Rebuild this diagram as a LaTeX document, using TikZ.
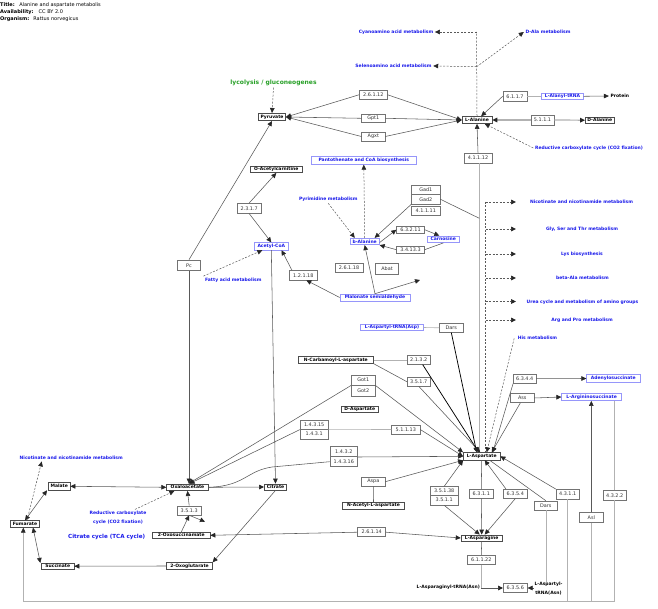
\documentclass[tikz,border=0pt]{standalone}
\usepackage{fontspec}
\setmainfont{DejaVu Sans}
\usetikzlibrary{arrows.meta}
\definecolor{pblue}{RGB}{25,25,235}
\definecolor{bbord}{RGB}{150,150,250}
\definecolor{ggreen}{RGB}{40,160,40}
\tikzset{
  met/.style={draw=black!70, line width=0.65pt, fill=white, inner sep=0pt, font=\fontsize{4.5}{5}\selectfont\bfseries},
  enz/.style={draw=black!55, line width=0.6pt, fill=white, inner sep=0pt, font=\fontsize{4.9}{5.5}\selectfont, text=black!80},
  bmet/.style={draw=bbord, line width=0.6pt, fill=white, inner sep=0pt, font=\fontsize{4.5}{5}\selectfont\bfseries, text=pblue},
  plab/.style={inner sep=1.5pt, font=\fontsize{4.5}{5}\selectfont\bfseries, text=pblue},
  tlab/.style={inner sep=1.5pt, font=\fontsize{4.5}{5}\selectfont\bfseries},
  rx/.style={draw=black!65, line width=0.55pt},
  lrx/.style={draw=black!30, line width=0.6pt},
  hrx/.style={draw=black, line width=0.75pt},
  wrx/.style={draw=black!30, line width=1.2pt},
  dsh/.style={draw=black!65, line width=0.5pt, dash pattern=on 2pt off 1.5pt},
  arr/.style={-{Triangle[length=5pt,width=4.6pt,color=black!85]}},
  barr/.style={{Triangle[length=5pt,width=4.6pt,color=black!85]}-{Triangle[length=5pt,width=4.6pt,color=black!85]}},
}
\begin{document}
\begin{tikzpicture}[x=1pt,y=-1pt]
\useasboundingbox (0,0) rectangle (658,609);
\fill[white] (0,0) rectangle (658,609);
% header
\node[anchor=west,inner sep=0,font=\fontsize{5}{6}\selectfont] (hd1) at (0,5) {\textbf{Title:}\hspace{4.5pt}Alanine and aspartate metabolis};
\node[anchor=west,inner sep=0,font=\fontsize{5}{6}\selectfont] (hd2) at (0,12.3) {\textbf{Availability:}\hspace{5pt}CC BY 2.0};
\node[anchor=west,inner sep=0,font=\fontsize{5}{6}\selectfont] (hd3) at (0,19.3) {\textbf{Organism:}\hspace{4pt}Rattus norvegicus};
% pathway labels
\node[plab] (cyano) at (396,32) {Cyanoamino acid metabolism};
\node[plab] (seleno) at (393.5,66) {Selenoamino acid metabolism};
\node[plab] (dalamet) at (548,32) {D-Ala metabolism};
\node[plab] (redc1) at (589,148) {Reductive carboxylate cycle (CO2 fixation)};
\node[plab] (pyrim) at (328.3,199.5) {Pyrimidine metabolism};
\node[plab] (fatty) at (233.3,280) {Fatty acid metabolism};
\node[plab] (nic1) at (581.5,202) {Nicotinate and nicotinamide metabolism};
\node[plab] (gly) at (582,229) {Gly, Ser and Thr metabolism};
\node[plab] (lys) at (582,254) {Lys biosynthesis};
\node[plab] (beta) at (582.5,278) {beta-Ala metabolism};
\node[plab] (urea) at (582.5,302) {Urea cycle and metabolism of amino groups};
\node[plab] (argpro) at (582,320) {Arg and Pro metabolism};
\node[plab] (his) at (537.5,338.3) {His metabolism};
\node[plab] (nic2) at (71.2,458) {Nicotinate and nicotinamide metabolism};
\node[plab, align=center, font=\fontsize{4.5}{9}\selectfont\bfseries] (redc2) at (118,517.8) {Reductive carboxylate\\cycle (CO2 fixation)};
\node[plab, font=\fontsize{5.6}{7}\selectfont\bfseries] (tca) at (106.7,537.3) {Citrate cycle (TCA cycle)};
\node[inner sep=1.5pt, font=\fontsize{6}{7}\selectfont\bfseries, text=ggreen] (glyco) at (273.5,83) {lycolysis / gluconeogenes};
% metabolites
\node[met, minimum width=27.4pt, minimum height=7.4pt] (pyr) at (272,117) {Pyruvate};
\node[met, minimum width=30pt, minimum height=7pt] (lala) at (477,120) {L-Alanine};
\node[met, minimum width=28.7pt, minimum height=6.5pt] (dala) at (599.7,120.2) {D-Alanine};
\node[met, minimum width=51.3pt, minimum height=6.7pt] (oac) at (276.3,169.3) {O-Acetylcarnitine};
\node[met, minimum width=75pt, minimum height=6.7pt] (ncarb) at (335.8,360) {N-Carbamoyl-L-aspartate};
\node[met, minimum width=37.3pt, minimum height=6.3pt] (dasp) at (359.7,409.2) {D-Aspartate};
\node[met, minimum width=36.7pt, minimum height=7.3pt] (lasp) at (481.7,456.3) {L-Aspartate};
\node[met, minimum width=41.3pt, minimum height=6.2pt] (lasn) at (481.7,538) {L-Asparagine};
\node[met, minimum width=61.7pt, minimum height=6.7pt] (nacet) at (373.5,505.7) {N-Acetyl-L-aspartate};
\node[met, minimum width=41.7pt, minimum height=6.7pt] (oxa) at (187.5,487.3) {Oxaloacetate};
\node[met, minimum width=22.3pt, minimum height=6.2pt] (citrate) at (275.5,487) {Citrate};
\node[met, minimum width=21.7pt, minimum height=7.3pt] (malate) at (59.2,486.3) {Malate};
\node[met, minimum width=28.7pt, minimum height=6.7pt] (fum) at (25,524) {Fumarate};
\node[met, minimum width=32.3pt, minimum height=5.9pt] (succ) at (57.8,566.2) {Succinate};
\node[met, minimum width=45.7pt, minimum height=6.7pt] (oxoglu) at (189.5,566) {2-Oxoglutarate};
\node[met, minimum width=57.3pt, minimum height=6.2pt] (oxosuc) at (181.3,535.3) {2-Oxosuccinamate};
\node[tlab] (protein) at (619.8,96) {Protein};
% blue metabolites
\node[bmet, minimum width=34pt, minimum height=7.3pt] (acoa) at (271.3,246.3) {Acetyl-CoA};
\node[bmet, minimum width=29.3pt, minimum height=6.6pt] (balan) at (364.7,241.5) {b-Alanine};
\node[bmet, minimum width=31.3pt, minimum height=6.7pt] (carn) at (443.3,239.3) {Carnosine};
\node[bmet, minimum width=70pt, minimum height=7pt] (malsa) at (375,297.5) {Malonate semialdehyde};
\node[bmet, minimum width=62.7pt, minimum height=6.4pt] (aspt) at (392,327.5) {L-Aspartyl-tRNA(Asp)};
\node[bmet, minimum width=41.7pt, minimum height=6pt] (alat) at (562.5,96.3) {L-Alanyl-tRNA};
\node[bmet, minimum width=104.3pt, minimum height=7.7pt] (panto) at (363.8,160.5) {Pantothenate and CoA biosynthesis};
\node[bmet, minimum width=53.3pt, minimum height=8.3pt] (adeno) at (613.3,378.5) {Adenylosuccinate};
\node[bmet, minimum width=60pt, minimum height=7.3pt] (argsuc) at (591.7,397) {L-Argininosuccinate};
% enzymes
\node[enz, minimum width=28pt, minimum height=8.3pt] (e26112) at (373.3,94.8) {2.6.1.12};
\node[enz, minimum width=23.3pt, minimum height=8.7pt] (gpt1) at (373.3,118.3) {Gpt1};
\node[enz, minimum width=23.3pt, minimum height=9pt] (agxt) at (373.3,136.5) {Agxt};
\node[enz, minimum width=24pt, minimum height=9.3pt] (e6117) at (515,96.3) {6.1.1.7};
\node[enz, minimum width=23.3pt, minimum height=10pt] (e5111) at (542.5,120) {5.1.1.1};
\node[enz, minimum width=28pt, minimum height=10pt] (e41112) at (478,158) {4.1.1.12};
\node[enz, minimum width=23.7pt, minimum height=10pt] (e2317) at (249.2,208.3) {2.3.1.7};
\node[enz, minimum width=28.3pt, minimum height=9.5pt] (gad1) at (425.8,189.7) {Gad1};
\node[enz, minimum width=28.3pt, minimum height=9.5pt] (gad2) at (425.8,199.2) {Gad2};
\node[enz, minimum width=28.3pt, minimum height=9pt] (e41111) at (425.8,211.2) {4.1.1.11};
\node[enz, minimum width=27.7pt, minimum height=7.5pt] (e63211) at (410.5,229.7) {6.3.2.11};
\node[enz, minimum width=27.7pt, minimum height=7.5pt] (e341) at (410.5,249.7) {3.4.13.3};
\node[enz, minimum width=27.7pt, minimum height=9.3pt] (e26118) at (349,268) {2.6.1.18};
\node[enz, minimum width=22.7pt, minimum height=10.7pt] (abat) at (387,268.5) {Abat};
\node[enz, minimum width=28pt, minimum height=9.3pt] (e12118) at (303.3,275.3) {1.2.1.18};
\node[enz, minimum width=23.3pt, minimum height=10.7pt] (pc) at (189,265.3) {Pc};
\node[enz, minimum width=24pt, minimum height=9pt] (dars1) at (451.3,327.8) {Dars};
\node[enz, minimum width=22.7pt, minimum height=8.7pt] (e2132) at (418.7,360) {2.1.3.2};
\node[enz, minimum width=22.7pt, minimum height=8.3pt] (e3517) at (418.7,381.8) {3.5.1.7};
\node[enz, minimum width=23.3pt, minimum height=10pt] (got1) at (363.3,380) {Got1};
\node[enz, minimum width=23.3pt, minimum height=11pt] (got2) at (363.3,390.5) {Got2};
\node[enz, minimum width=28.3pt, minimum height=9.3pt] (e14315) at (314.2,424.7) {1.4.3.15};
\node[enz, minimum width=28.3pt, minimum height=9.7pt] (e1431) at (314.2,434.2) {1.4.3.1};
\node[enz, minimum width=28.3pt, minimum height=9pt] (e51113) at (405.8,429.5) {5.1.1.13};
\node[enz, minimum width=27.7pt, minimum height=10pt] (e1432) at (343.8,451.7) {1.4.3.2};
\node[enz, minimum width=27.7pt, minimum height=10pt] (e14316) at (343.8,461.7) {1.4.3.16};
\node[enz, minimum width=23.3pt, minimum height=8.7pt] (aspa) at (373.3,481.7) {Aspa};
\node[enz, minimum width=22.7pt, minimum height=9.3pt] (e6344) at (524.7,378.7) {6.3.4.4};
\node[enz, minimum width=23.3pt, minimum height=9.3pt] (ass) at (522.3,398) {Ass};
\node[enz, minimum width=28.3pt, minimum height=8.3pt] (e35138) at (444.2,490.8) {3.5.1.38};
\node[enz, minimum width=28.3pt, minimum height=10pt] (e3511) at (444.2,500) {3.5.1.1};
\node[enz, minimum width=23.3pt, minimum height=9pt] (e6311) at (481.3,493.8) {6.3.1.1};
\node[enz, minimum width=24pt, minimum height=9pt] (e6354) at (515.3,493.8) {6.3.5.4};
\node[enz, minimum width=23.3pt, minimum height=9.7pt] (e4311) at (567.7,494.2) {4.3.1.1};
\node[enz, minimum width=22.7pt, minimum height=9.3pt] (e4322) at (614.7,495.3) {4.3.2.2};
\node[enz, minimum width=23pt, minimum height=9pt] (dars2) at (545.8,505.5) {Dars};
\node[enz, minimum width=24pt, minimum height=9.7pt] (asl) at (591.3,517.5) {Asl};
\node[enz, minimum width=23.7pt, minimum height=9pt] (e35113) at (189.2,510.5) {3.5.1.3};
\node[enz, minimum width=28pt, minimum height=9pt] (e26114) at (371.7,532.2) {2.6.1.14};
\node[enz, minimum width=27.3pt, minimum height=9.3pt] (e61122) at (481.3,559.7) {6.1.1.22};
\node[enz, minimum width=24pt, minimum height=9.3pt] (e6356) at (515.3,588) {6.3.5.6};
\node[tlab, anchor=east, inner sep=0pt] (asntrna) at (480,587.7) {L-Asparaginyl-tRNA(Asn)};
% coordinates
\coordinate (dj1) at (476.7,66.7);
\coordinate (dj2) at (476.7,32);
\coordinate (mend) at (420,280);
\coordinate (gj) at (479.3,218.3);
\coordinate (e3end) at (205,521.7);
\coordinate (dv1) at (485.7,202); \coordinate (tp1) at (516,202);
\coordinate (dv2) at (485.7,229); \coordinate (tp2) at (516,229);
\coordinate (dv3) at (485.7,254); \coordinate (tp3) at (516,254);
\coordinate (dv4) at (485.7,278); \coordinate (tp4) at (516,278);
\coordinate (dv5) at (485.7,301.5); \coordinate (tp5) at (516,301.5);
\coordinate (dv6) at (485.7,320); \coordinate (tp6) at (516,320);
\coordinate (bl) at (23.3,601);
% top dashed
\draw[dsh] (lala.north) -- (dj1) -- (dj2);
\draw[dsh,arr] (dj2) -- (cyano.east);
\draw[dsh,arr] (dj1) -- (seleno.east);
\draw[dsh,arr] (dj1) -- (dalamet.west);
\draw[dsh,arr] (glyco.south) -- (pyr.north);
% pyruvate - alanine
\draw[rx,arr] (e26112.west) -- (pyr.east);
\draw[rx,arr] (gpt1.west) -- (pyr.east);
\draw[rx,arr] (agxt.west) -- (pyr.east);
\draw[rx,arr] (e26112.east) -- (lala.west);
\draw[rx,arr] (gpt1.east) -- (lala.west);
\draw[rx,arr] (agxt.east) -- (lala.west);
\draw[rx,arr] (e6117.west) -- (lala);
\draw[lrx] (e6117.east) -- (alat.west);
\draw[rx,arr] (alat.east) -- (protein.west);
\draw[wrx,arr] (e5111.west) -- (lala.east);
\draw[wrx,arr] (e5111.east) -- (dala.west);
\draw[dsh,arr] (redc1.west) -- (lala);
\draw[rx,arr] (e41112.north) -- (lala.south);
\draw[wrx] ([xshift=1.3pt]e41112.south) -- ([xshift=1.3pt]e41112.south |- lasp.north);
% acetyl-CoA / b-alanine
\draw[rx,arr] (e2317.north) -- (oac.south);
\draw[rx,arr] (e2317.south) -- (acoa.north);
\draw[rx,arr] (pc.north) -- (pyr.south);
\draw[rx,arr] (pc.south) -- (pc.south |- oxa.north);
\draw[dsh,arr] (fatty.north west) -- (acoa);
\draw[rx,arr] ([xshift=3pt]e12118.north west) -- ([xshift=-7pt]acoa.south east);
\draw[rx,arr] (malsa.west) -- ([xshift=3pt]e12118.south);
\draw[rx,arr] (malsa.north) -- (balan.south);
\draw[rx,arr] (malsa.north) -- (mend);
\draw[dsh,arr] (pyrim.south) -- ([xshift=5pt]balan.north west);
\draw[dsh,arr] (balan.north) -- (panto.south);
\draw[rx,arr] (gad2.south west) -- ([xshift=-5pt]balan.north east);
\draw[rx] (gad2.east) -- (gj);
\draw[rx,arr] ([yshift=-1pt]balan.east) -- (e63211.west);
\draw[rx,arr] (e63211.east) -- ([xshift=-4pt]carn.north);
\draw[rx] (carn.south) -- (e341.east);
\draw[rx,arr] (e341.west) -- (balan.south east);
% TCA
\draw[rx,barr] (malate.east) -- (oxa.west);
\draw[rx,barr] (fum.north) -- ([xshift=-1pt]malate.south west);
\draw[dsh,arr] ([xshift=2pt]fum.north) -- ([xshift=-29.5pt]nic2.south);
\draw[rx,barr] ([xshift=8pt]fum.south) -- ([xshift=-1pt]succ.north west);
\draw[rx,arr] (oxoglu.west) -- (succ.east);
\draw[rx,arr] (citrate.south) -- (oxoglu.north east);
\draw[rx,arr] (oxa.east) -- (citrate.west);
\draw[rx,arr] (acoa.south) -- (citrate.north);
\draw[rx,arr] (oxosuc.north) -- (e35113.south);
\draw[rx,arr] (e35113.south) -- (e3end);
\draw[rx,arr] (e35113.north) -- (oxa.south);
\draw[dsh,arr] ([xshift=17pt]redc2.north) -- ([xshift=8pt]oxa.south west);
\draw[rx,arr] (e26114.west) -- (oxosuc.east);
\draw[rx,arr] (e26114.east) -- (lasn.west);
% aspartate left side
\draw[rx] (oxa.east) .. controls (245,486) and (246,471) .. (272,467) -- (e14316.west);
\draw[rx,arr] (e1432.south east) -- (lasp.west);
\draw[rx,arr] (e14315.south west) -- ([xshift=2pt]oxa.north);
\draw[lrx] (e14315.south east) -- (e51113.west);
\draw[rx,arr] (e51113.east) -- (lasp.west);
\draw[rx,arr] (got1.south west) -- ([xshift=1pt]oxa.north);
\draw[rx,arr] (got1.south east) -- (lasp.north west);
\draw[rx] (aspa.south) -- (nacet.north);
\draw[rx,arr] (aspa.east) -- (lasp.south west);
\draw[lrx] (ncarb.east) -- (e2132.west);
\draw[rx] (ncarb.south east) -- (e3517.west);
\draw[hrx,arr] ([xshift=4pt]e2132.south) -- ([xshift=-3pt]lasp.north);
\draw[rx,arr] (e3517.south) -- ([xshift=-1.5pt]lasp.north);
\draw[lrx] (aspt.east) -- (dars1.west);
\draw[hrx,arr] (dars1.south) -- ([xshift=-5pt]lasp.north);
% dashed to the right
\draw[dsh] (dv1) -- (dv1 |- lasp.north);
\draw[dsh,arr] (dv1) -- (tp1);
\draw[dsh,arr] (dv2) -- (tp2);
\draw[dsh,arr] (dv3) -- (tp3);
\draw[dsh,arr] (dv4) -- (tp4);
\draw[dsh,arr] (dv5) -- (tp5);
\draw[dsh,arr] (dv6) -- (tp6);
\draw[dsh,arr] ([xshift=-2pt]his.west) -- ([xshift=5pt]lasp.north);
% right side
\draw[rx,arr] (e6344.east) -- (adeno.west);
\draw[rx,arr] (e6344.south west) -- ([xshift=11pt]lasp.north);
\draw[rx,arr] (ass.east) -- (argsuc.west);
\draw[rx,arr] ([xshift=-2pt]ass.south) -- ([xshift=10pt]lasp.north);
\draw[rx] (lasp.south) -- (e6311.north);
\draw[rx,arr] (e6311.south) -- (lasn.north);
\draw[rx,arr] ([xshift=3pt]e6354.north west) -- ([xshift=3pt]lasp.south);
\draw[rx,arr] (e6354.south) -- ([xshift=3pt]lasn.north);
\draw[rx,arr] (e35138.north) -- (lasp.south west);
\draw[rx,arr] (e3511.south) -- ([xshift=-2pt]lasn.north);
\draw[rx] (dars2.north) -- ([xshift=8pt]lasp.south);
\draw[rx,arr] (e4311.north west) -- (lasp.east);
\draw[rx,arr] (asl.north) -- (asl.north |- argsuc.south);
\draw[lrx] (e4322.north) -- (e4322.north |- argsuc.south);
% bottom
\draw[rx] (lasn.south) -- (e61122.north);
\coordinate (aj) at (e61122.south |- e6356.west);
\draw[lrx] (e61122.south) -- (aj);
\draw[rx,arr] (aj) -- (e6356.west);
\coordinate (dj) at (dars2.south |- e6356.east);
\draw[lrx] (dars2.south) -- (dj);
\draw[rx,arr] (dj) -- (e6356.east);
\draw[lrx] (e4311.south) -- (e4311.south |- bl);
\draw[lrx] (asl.south) -- (asl.south |- bl);
\draw[lrx,arr] (e4322.south) -- (e4322.south |- bl) -- (bl) -- (bl |- fum.south);
\node[tlab, align=center, fill=white, inner sep=0.5pt, font=\fontsize{4.5}{9.3}\selectfont\bfseries] (asptrna) at (548.5,588.7) {L-Aspartyl-\\tRNA(Asn)};
\end{tikzpicture}
\end{document}
